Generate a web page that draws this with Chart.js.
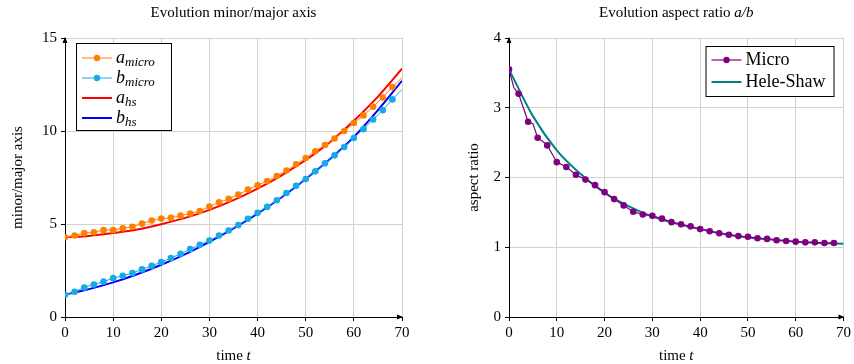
<!DOCTYPE html>
<html>
<head>
<meta charset="utf-8">
<script src="https://cdn.jsdelivr.net/npm/chart.js@4.4.0/dist/chart.umd.min.js"></script>
<style>
html,body{margin:0;padding:0;background:#fff;}
#wrap{position:relative;width:854px;height:364px;overflow:hidden;}
canvas{position:absolute;top:0;}
#c1{left:0;}
#c2{left:427px;}
</style>
</head>
<body>
<div id="wrap">
  <canvas id="c1" width="427" height="364"></canvas>
  <canvas id="c2" width="427" height="364"></canvas>
</div>
<script>
// --- data ---
const tMicro = [0,2,4,6,8,10,12,14,16,18,20,22,24,26,28,30,32,34,36,38,40,42,44,46,48,50,52,54,56,58,60,62,64,66,68,70];
const aMicro = [4.29,4.38,4.51,4.56,4.67,4.67,4.77,4.85,5.02,5.19,5.29,5.33,5.45,5.56,5.70,5.94,6.17,6.35,6.58,6.85,7.08,7.31,7.58,7.87,8.21,8.55,8.91,9.25,9.60,10.0,10.43,10.84,11.30,11.80,12.36,12.86];
const bMicro = [1.20,1.36,1.59,1.75,1.90,2.09,2.22,2.36,2.56,2.75,2.95,3.17,3.40,3.65,3.88,4.11,4.38,4.65,4.94,5.28,5.60,5.92,6.28,6.67,7.05,7.42,7.83,8.26,8.69,9.14,9.62,10.10,10.62,11.12,11.70,12.23];

const tHs = [0,5,10,15,20,25,30,35,40,45,50,55,60,65,70];
const aHs = [4.29,4.36,4.51,4.70,4.99,5.33,5.76,6.28,6.90,7.62,8.44,9.40,10.55,11.85,13.35];
const bHs = [1.20,1.50,1.86,2.30,2.81,3.38,4.04,4.76,5.56,6.44,7.42,8.48,9.68,11.12,12.70];

const tRatio = [0,1,2,3,4,5,6,7,8,9,10,12,14,16,18,20,22,24,26,28,30,32,34,36,38,40,42,44,46,48,50,52,54,56,58,60,62,64,66,68];
const ratioMicro = [3.55,3.29,3.20,3.00,2.80,2.77,2.57,2.52,2.46,2.34,2.22,2.15,2.04,1.97,1.89,1.79,1.69,1.60,1.51,1.47,1.45,1.41,1.36,1.33,1.30,1.26,1.23,1.20,1.18,1.16,1.15,1.13,1.12,1.10,1.09,1.08,1.07,1.07,1.06,1.06];
const ratioHs = [3.55,2.88,2.39,2.05,1.78,1.59,1.44,1.34,1.26,1.19,1.14,1.11,1.08,1.06,1.05];

const leftNames = [['a','micro'],['b','micro'],['a','hs'],['b','hs']];
const rightNames = ['Micro','Hele-Shaw'];

const FONT = "'Liberation Serif', 'DejaVu Serif', serif";

function pts(xs, ys){ return xs.map((x,i)=>({x:x,y:ys[i]})); }

// draws pieces of text [text, style, size, dy] one after the other
function rich(c, parts, x, y, align){
    let w = 0;
    parts.forEach(p=>{ c.font = p[1]+' '+p[2]+'px '+FONT; w += c.measureText(p[0]).width; });
    let cx = align=='center' ? x-w/2 : x;
    c.textBaseline = 'alphabetic';
    c.textAlign = 'left';
    parts.forEach(p=>{
        c.font = p[1]+' '+p[2]+'px '+FONT;
        c.fillText(p[0], cx, y+(p[3]||0));
        cx += c.measureText(p[0]).width;
    });
}

function arrows(chart){
    const c = chart.ctx, a = chart.chartArea;
    c.save();
    c.fillStyle = '#000';
    c.beginPath();
    c.moveTo(a.left, a.top-1); c.lineTo(a.left-2.5, a.top+5); c.lineTo(a.left+2.5, a.top+5); c.closePath();
    c.fill();
    c.beginPath();
    c.moveTo(a.right+1, a.bottom); c.lineTo(a.right-5, a.bottom-2.5); c.lineTo(a.right-5, a.bottom+2.5); c.closePath();
    c.fill();
    c.restore();
}

const decor = {
    id:'decor',
    afterDraw(chart, args, o){
        const c = chart.ctx, a = chart.chartArea;
        arrows(chart);
        c.save();
        c.fillStyle = '#000';
        rich(c, o.title, (a.left+a.right)/2, 17, 'center');
        rich(c, [['time ','normal',15],['t','italic',15]], (a.left+a.right)/2, 360, 'center');
        c.translate(o.ylabX, (a.top+a.bottom)/2);
        c.rotate(-Math.PI/2);
        rich(c, o.ylab, 0, 5, 'center');
        c.restore();

        // legend box
        c.save();
        const bx = o.legendRight ? a.right-o.legendRight-o.legendW : a.left+o.legendLeft;
        const by = a.top+o.legendTop;
        c.fillStyle = '#fff';
        c.fillRect(bx, by, o.legendW, o.legendH);
        c.strokeStyle = '#000';
        c.lineWidth = 1;
        c.strokeRect(bx+0.5, by+0.5, o.legendW, o.legendH);
        chart.data.datasets.forEach((ds,i)=>{
            const y = by+o.rowFirst+i*o.rowStep;
            c.strokeStyle = ds.borderColor;
            c.lineWidth = ds.borderWidth;
            c.beginPath(); c.moveTo(bx+6, y); c.lineTo(bx+36, y); c.stroke();
            if (ds.marker){
                c.fillStyle = ds.borderColor;
                c.beginPath(); c.arc(bx+21, y, 3.2, 0, Math.PI*2); c.fill();
            }
            c.fillStyle = '#000';
            rich(c, o.names[i], bx+40, y+5, 'left');
        });
        c.restore();
    }
};

function baseScales(ymax, ystep, ywidth){
    const tickFont = {family:FONT, size:15};
    return {
        x:{type:'linear', min:0, max:70,
           ticks:{stepSize:10, color:'#000', font:tickFont, padding:3, maxRotation:0},
           grid:{color:'#d2d2d2', tickColor:'#000', tickLength:4},
           border:{color:'#000', width:1},
           afterFit(s){ s.height = 47; }},
        y:{min:0, max:ymax,
           ticks:{stepSize:ystep, color:'#000', font:tickFont, padding:4},
           grid:{color:'#d2d2d2', tickColor:'#000', tickLength:4},
           border:{color:'#000', width:1},
           afterFit(s){ s.width = ywidth; }}
    };
}

const everyOther = ctx => (ctx.raw && ctx.raw.x%2===0 && ctx.raw.x<70) ? 3.3 : 0;

new Chart(document.getElementById('c1'), {
    type:'line',
    data:{datasets:[
        {data:pts(tMicro,aMicro), borderColor:'#ff8000', backgroundColor:'#ff8000', borderWidth:1, marker:true, pointRadius:everyOther, pointBorderWidth:0},
        {data:pts(tMicro,bMicro), borderColor:'#17a9e8', backgroundColor:'#17a9e8', borderWidth:1, marker:true, pointRadius:everyOther, pointBorderWidth:0},
        {data:pts(tHs,aHs), borderColor:'#ff0000', borderWidth:2, pointRadius:0, cubicInterpolationMode:'monotone'},
        {data:pts(tHs,bHs), borderColor:'#0000ff', borderWidth:2, pointRadius:0, cubicInterpolationMode:'monotone'}
    ]},
    options:{
        responsive:false, animation:false, devicePixelRatio:1,
        layout:{padding:{top:38, right:25, left:0, bottom:0}},
        scales:baseScales(15, 5, 65),
        plugins:{legend:{display:false}, tooltip:{enabled:false},
            decor:{
                title:[['Evolution minor/major axis','normal',15]],
                ylab:[['minor/major axis','normal',15]], ylabX:17,
                legendLeft:11, legendTop:5, legendW:95, legendH:87, rowFirst:15, rowStep:20,
                names:leftNames.map(n=>[[n[0],'italic',18],[n[1],'italic',13,3]])
            }}
    },
    plugins:[decor]
});

new Chart(document.getElementById('c2'), {
    type:'line',
    data:{datasets:[
        {data:pts(tRatio,ratioMicro), borderColor:'#800080', backgroundColor:'#800080', borderWidth:1.2, marker:true, pointRadius:everyOther, pointBorderWidth:0},
        {data:pts(tHs,ratioHs), borderColor:'#008080', borderWidth:2, pointRadius:0, cubicInterpolationMode:'monotone'}
    ]},
    options:{
        responsive:false, animation:false, devicePixelRatio:1,
        layout:{padding:{top:38, right:9, left:0, bottom:0}},
        scales:baseScales(4, 1, 82),
        plugins:{legend:{display:false}, tooltip:{enabled:false},
            decor:{
                title:[['Evolution aspect ratio ','normal',15],['a/b','italic',15]],
                ylab:[['aspect ratio','normal',15]], ylabX:46,
                legendRight:10, legendTop:8, legendW:128, legendH:50, rowFirst:14, rowStep:22,
                names:rightNames.map(n=>[[n,'normal',18]])
            }}
    },
    plugins:[decor]
});
</script>
</body>
</html>
